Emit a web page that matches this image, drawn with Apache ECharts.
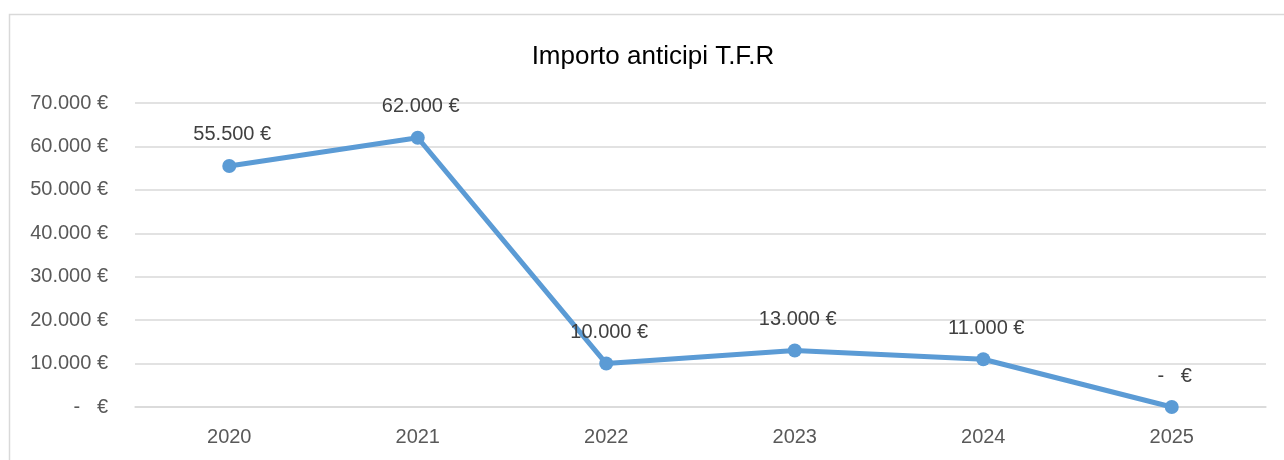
<!DOCTYPE html>
<html>
<head>
<meta charset="utf-8">
<script src="https://cdn.jsdelivr.net/npm/echarts@6/dist/echarts.min.js"></script>
<style>
  html, body { margin: 0; padding: 0; background: #fff; }
  #chart { width: 1284px; height: 460px; }
</style>
</head>
<body>
<div id="chart"></div>
<script>
const years = ['2020', '2021', '2022', '2023', '2024', '2025'];
const importi = [55500, 62000, 10000, 13000, 11000, 0];

const FONT = '"Liberation Sans", Arial, sans-serif';

// formato contabile: 55.500 €  /  -   €
function euro(v) {
  if (v === 0) return '-   €';
  return String(v).replace(/\B(?=(\d{3})+(?!\d))/g, '.') + ' €';
}

const chart = echarts.init(document.getElementById('chart'));

chart.setOption({
  animation: false,
  graphic: [{
    type: 'rect',
    shape: { x: 9.5, y: 14.5, width: 1400, height: 600 },
    style: { fill: 'none', stroke: '#d9d9d9', lineWidth: 1.5 },
    silent: true
  }],
  title: {
    text: 'Importo anticipi T.F.R',
    left: 648,
    textAlign: 'center',
    top: 39,
    textStyle: { fontFamily: FONT, fontSize: 26, fontWeight: 'normal', color: '#000' }
  },
  grid: { left: 135, right: 18, top: 103, bottom: 53 },
  xAxis: [{
    type: 'category',
    data: years,
    boundaryGap: true,
    axisLine: { lineStyle: { color: '#d9d9d9', width: 1.5 } },
    axisTick: { inside: true, length: 6, lineStyle: { color: '#d9d9d9' } },
    axisLabel: { margin: 20, fontFamily: FONT, fontSize: 20, color: '#595959' }
  }, {
    // ticks anche al centro di ogni categoria
    type: 'category',
    data: years,
    position: 'bottom',
    boundaryGap: true,
    axisLine: { show: false },
    axisTick: { inside: true, length: 6, alignWithLabel: true, lineStyle: { color: '#d9d9d9' } },
    axisLabel: { show: false },
    splitLine: { show: false }
  }],
  yAxis: {
    type: 'value',
    min: 0,
    max: 70000,
    interval: 10000,
    axisLine: { show: false },
    axisTick: { show: false },
    splitLine: { lineStyle: { color: '#d9d9d9', width: 1.5 } },
    axisLabel: {
      margin: 27,
      fontFamily: FONT,
      fontSize: 20,
      color: '#595959',
      formatter: euro
    }
  },
  series: [{
    type: 'line',
    data: importi,
    xAxisIndex: 0,
    symbol: 'circle',
    symbolSize: 14,
    lineStyle: { color: '#5b9bd5', width: 5 },
    itemStyle: { color: '#5b9bd5' },
    label: {
      show: true,
      position: 'top',
      distance: 14,
      offset: [3, 0],
      fontFamily: FONT,
      fontSize: 20,
      color: '#404040',
      formatter: p => euro(p.value)
    }
  }]
});
</script>
</body>
</html>
